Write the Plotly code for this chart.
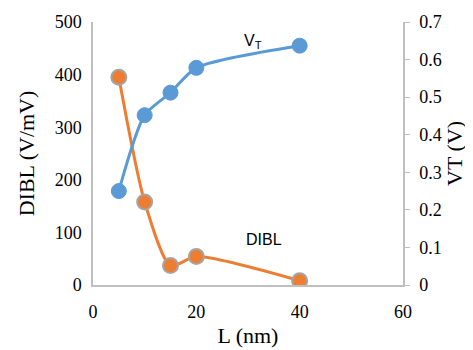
import plotly.graph_objects as go

L = [5, 10, 15, 20, 40]
dibl = [395, 158, 37, 54, 8]
vt = [0.25, 0.452, 0.512, 0.578, 0.637]

serif = "Liberation Serif"
sans = "Liberation Sans"
axis_color = "#BFBFBF"

fig = go.Figure()
fig.add_trace(go.Scatter(
    x=L, y=vt, yaxis="y2", mode="lines+markers",
    line=dict(color="#5B9BD5", width=3, shape="spline", smoothing=0.7),
    marker=dict(color="#5B9BD5", size=15, line=dict(color="#5B9BD5", width=1)),
    showlegend=False))
fig.add_trace(go.Scatter(
    x=L, y=dibl, mode="lines+markers",
    line=dict(color="#ED7D31", width=3, shape="spline", smoothing=0.7),
    marker=dict(color="#ED7D31", size=15, line=dict(color="#A5A5A5", width=2)),
    showlegend=False))

fig.update_layout(
    width=465, height=342,
    margin=dict(l=85, r=70, t=14, b=65, autoexpand=False),
    paper_bgcolor="white", plot_bgcolor="white",
    font=dict(family=serif, size=18, color="black"),
    xaxis=dict(range=[0, 60], tickvals=[0, 20, 40, 60], showgrid=False,
               showline=True, linecolor=axis_color, linewidth=1.5, zeroline=False,
               ticks="outside", ticklen=10, tickcolor="rgba(0,0,0,0)",
               title=dict(text="L (nm)", standoff=6)),
    yaxis=dict(range=[0, 500], tickvals=[0, 100, 200, 300, 400, 500], showgrid=False,
               showline=True, linecolor=axis_color, linewidth=1.5, zeroline=False,
               ticks="outside", ticklen=6, tickcolor="rgba(0,0,0,0)",
               title=dict(text="DIBL (V/mV)", standoff=14)),
    yaxis2=dict(range=[0, 0.7], tickvals=[0, 0.1, 0.2, 0.3, 0.4, 0.5, 0.6, 0.7],
                ticktext=["0", "0.1", "0.2", "0.3", "0.4", "0.5", "0.6", "0.7"],
                overlaying="y", side="right", showgrid=False, showline=True,
                linecolor=axis_color, linewidth=1.5, zeroline=False,
                ticks="outside", ticklen=5, tickcolor=axis_color,
                ticklabelstandoff=6,
                title=dict(text="VT (V)", standoff=2)),
    annotations=[
        dict(x=31, y=0.648, xref="x", yref="y2", text="V<sub>T</sub>", showarrow=False,
             font=dict(family=sans, size=16, color="black")),
        dict(x=33, y=86, xref="x", yref="y", text="DIBL", showarrow=False,
             font=dict(family=sans, size=16, color="black")),
    ],
)

fig.write_html("out.html")
